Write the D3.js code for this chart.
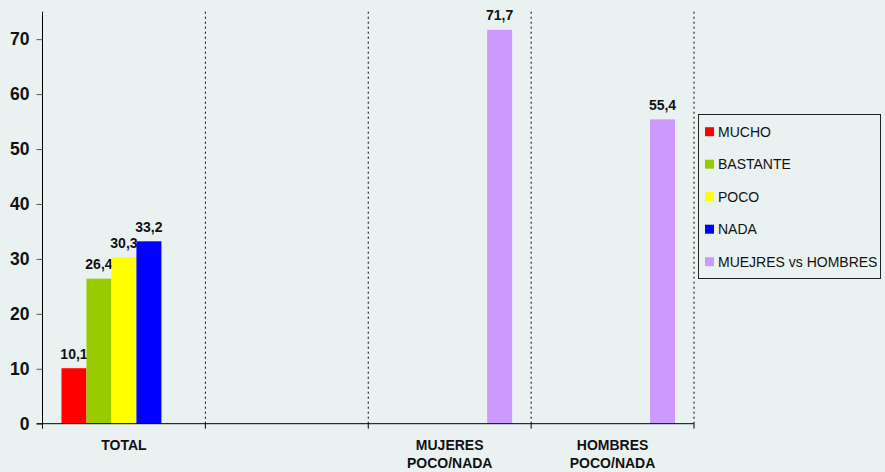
<!DOCTYPE html>
<html><head><meta charset="utf-8">
<script src="https://cdn.jsdelivr.net/npm/d3@7/dist/d3.min.js"></script>
<style>
html,body{margin:0;padding:0;background:#eaf2f1;}
svg{display:block;font-family:"Liberation Sans",Arial,sans-serif;}
</style></head><body>
<svg id="chart" width="885" height="472"></svg>
<script>
const categories = [["TOTAL"], [""], ["MUJERES", "POCO/NADA"], ["HOMBRES", "POCO/NADA"]];
const seriesNames = ["MUCHO", "BASTANTE", "POCO", "NADA", "MUEJRES vs HOMBRES"];
const seriesColors = ["#ff0000", "#99cc00", "#ffff00", "#0000ff", "#cc99ff"];
const mucho = [10.1, null, null, null];
const bastante = [26.4, null, null, null];
const poco = [30.3, null, null, null];
const nada = [33.2, null, null, null];
const mujeresVsHombres = [null, null, 71.7, 55.4];
const yTicks = [0, 10, 20, 30, 40, 50, 60, 70];
const yMax = 75;

const seriesValues = [mucho, bastante, poco, nada, mujeresVsHombres];
const svg = d3.select("#chart");
const margin = {left: 42.5, right: 191, top: 11.7, bottom: 48.3};
const W = 885, H = 472;
const x0 = d3.scaleBand().domain(d3.range(categories.length)).range([margin.left, W - margin.right]).paddingInner(0).paddingOuter(0);
const x1 = d3.scaleBand().domain(d3.range(seriesNames.length)).range([0, x0.bandwidth()]).paddingInner(0).paddingOuter(0.76);
const y = d3.scaleLinear().domain([0, yMax]).range([H - margin.bottom, margin.top]);

// dotted dividers
const divs = d3.range(1, categories.length + 1).map(i => margin.left + i * x0.bandwidth());
svg.append("g").selectAll("line").data(divs).join("line")
  .attr("x1", d => d).attr("x2", d => d)
  .attr("y1", margin.top).attr("y2", y(0))
  .attr("stroke", "#000").attr("stroke-width", 1).attr("stroke-dasharray", "2,3");

// bars
const fmt = v => d3.format(".1f")(v).replace(".", ",");
seriesValues.forEach((vals, si) => {
  const g = svg.append("g");
  const data = vals.map((v, ci) => ({v, ci})).filter(d => d.v != null);
  g.selectAll("rect").data(data).join("rect")
    .attr("x", d => x0(d.ci) + x1(si))
    .attr("y", d => y(d.v))
    .attr("width", x1.bandwidth())
    .attr("height", d => y(0) - y(d.v))
    .attr("fill", seriesColors[si]);
  g.selectAll("text").data(data).join("text")
    .attr("x", d => x0(d.ci) + x1(si) + x1.bandwidth() / 2)
    .attr("y", d => y(d.v) - 9.5)
    .attr("text-anchor", "middle")
    .attr("font-size", 14).attr("font-weight", "bold").attr("fill", "#111")
    .text(d => fmt(d.v));
});

// y axis
const yAxis = d3.axisLeft(y).tickValues(yTicks).tickSize(6).tickPadding(7).tickFormat(d3.format("d"));
const ya = svg.append("g").attr("transform", `translate(${margin.left},0)`).call(yAxis);
ya.select(".domain").attr("stroke", "#000").attr("d", `M0,${margin.top}V${y(0) + 5}`);
ya.selectAll(".tick line").attr("stroke", "#555");
ya.selectAll(".tick text").attr("font-size", 17.5).attr("font-weight", "bold").attr("fill", "#111")
  .attr("font-family", "Liberation Sans, Arial, sans-serif");

// x axis
const xa = svg.append("g").attr("transform", `translate(0,${y(0)})`);
xa.append("line").attr("x1", margin.left - 6).attr("x2", W - margin.right).attr("y1", 0).attr("y2", 0).attr("stroke", "#000");
xa.selectAll("line.tk").data(divs).join("line").attr("class", "tk")
  .attr("x1", d => d).attr("x2", d => d).attr("y1", 0).attr("y2", 5).attr("stroke", "#000");
const xl = xa.selectAll("text").data(categories).join("text")
  .attr("text-anchor", "middle").attr("font-size", 14).attr("font-weight", "bold").attr("fill", "#111")
  .attr("transform", (d, i) => `translate(${x0(i) + x0.bandwidth() / 2},0)`);
xl.selectAll("tspan").data(d => d).join("tspan")
  .attr("x", 0).attr("y", (d, j) => 26.5 + j * 18).text(d => d);

// legend
const lg = svg.append("g");
lg.append("rect").attr("x", 698.5).attr("y", 114.5).attr("width", 182).attr("height", 164)
  .attr("fill", "none").attr("stroke", "#222").attr("stroke-width", 1);
seriesNames.forEach((n, i) => {
  const cy = 131.7 + i * 32.5;
  lg.append("rect").attr("x", 705).attr("y", cy - 4.5).attr("width", 9).attr("height", 9).attr("fill", seriesColors[i]);
  lg.append("text").attr("x", 718).attr("y", cy + 5).attr("font-size", 14).attr("fill", "#111")
    .attr("textLength", null).text(n);
});
</script>
</body></html>
